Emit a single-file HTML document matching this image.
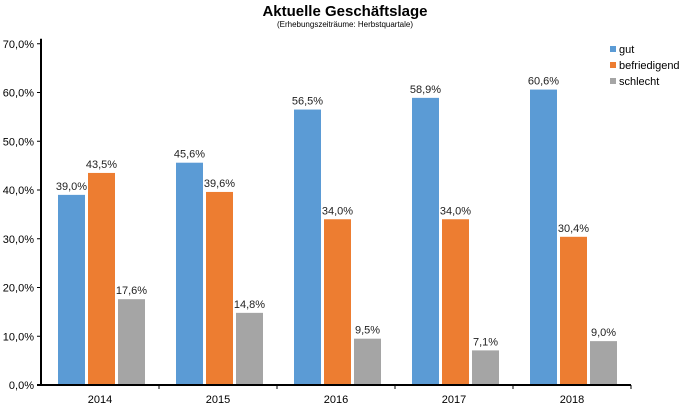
<!DOCTYPE html>
<html><head><meta charset="utf-8"><style>
body{margin:0;background:#fff;font-family:"Liberation Sans",Arial,sans-serif}
svg text{font-family:"Liberation Sans",Arial,sans-serif}
</style></head><body>
<svg id="c" width="696" height="406">
<text x="345" y="16" text-anchor="middle" font-size="15" font-weight="bold">Aktuelle Geschäftslage</text>
<text x="345" y="27" text-anchor="middle" font-size="8">(Erhebungszeiträume: Herbstquartale)</text>
<g id="plot"></g>
<g>
<g><rect x="610" y="46" width="6" height="6" fill="#5b9bd5"/><text x="619" y="53" font-size="11">gut</text></g>
<g><rect x="610" y="62" width="6" height="6" fill="#ed7d31"/><text x="619" y="69" font-size="11">befriedigend</text></g>
<g><rect x="610" y="78" width="6" height="6" fill="#a5a5a5"/><text x="619" y="85" font-size="11">schlecht</text></g>
</g>
</svg>
<script>
const categories=["2014","2015","2016","2017","2018"];
const gut=[39.0,45.6,56.5,58.9,60.6];
const befriedigend=[43.5,39.6,34.0,34.0,30.4];
const schlecht=[17.6,14.8,9.5,7.1,9.0];
const yTicks=[0,10,20,30,40,50,60,70];
const NS="http://www.w3.org/2000/svg";
const g=document.getElementById("plot");
const x0=41,catW=118,base=385,per=4.875;
const y=v=>base-v*per;
const fmt=v=>v.toFixed(1).replace(".",",")+"%";
function mk(t,a){const e=document.createElementNS(NS,t);for(const k in a)e.setAttribute(k,a[k]);g.appendChild(e);return e;}
yTicks.forEach(t=>{
 const l=mk("line",{x1:x0-4,x2:x0,y1:y(t),y2:y(t),stroke:"#000","stroke-width":1});
 
 
 const tx=mk("text",{x:x0-7,y:y(t)+4,"text-anchor":"end","font-size":11});
 tx.textContent=fmt(t);
 
 
});
const series=[[gut,"#5b9bd5","gut"],[befriedigend,"#ed7d31","befriedigend"],[schlecht,"#a5a5a5","schlecht"]];
categories.forEach((c,i)=>{
 const cx=x0+i*catW;
 series.forEach((s,j)=>{
  const v=s[0][i],bx=cx+17+j*30;
  const r=mk("rect",{x:bx,y:y(v),width:27,height:base-y(v),fill:s[1]});
  
  
  const t=mk("text",{x:bx+13.5,y:y(v)-5,"text-anchor":"middle","font-size":11,fill:"#222"});
  t.textContent=fmt(v);
  
  
 });
 const tk=mk("line",{x1:cx+catW,x2:cx+catW,y1:base,y2:base+4,stroke:"#000"});
 
 
 const lb=mk("text",{x:cx+catW/2,y:base+18,"text-anchor":"middle","font-size":11});
 lb.textContent=c;
 
 
});
const ya=mk("line",{x1:x0,x2:x0,y1:y(70)-5,y2:base,stroke:"#000","stroke-width":2});


const xa=mk("line",{x1:x0-4,x2:x0+catW*categories.length,y1:base,y2:base,stroke:"#000","stroke-width":2});


</script>
</body></html>
